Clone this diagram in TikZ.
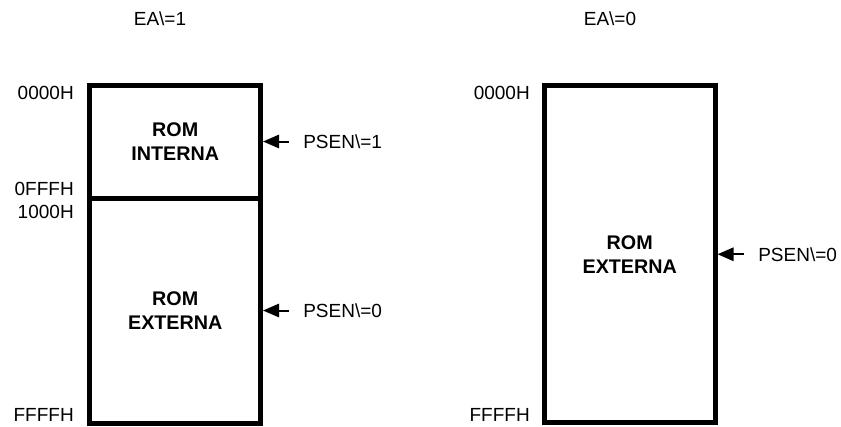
\documentclass[tikz,border=0pt]{standalone}
\usepackage{fontspec}
\setmainfont{Liberation Sans}
\usetikzlibrary{arrows.meta}

\begin{document}
\begin{tikzpicture}[
    x=0.75pt, y=-0.75pt,
    font=\fontsize{14.25}{24}\selectfont,
    % bloques de memoria
    mem/.style={draw, line width=3.75pt, minimum width=127.9pt, align=center, font=\fontsize{14.8}{18}\selectfont\bfseries},
    % direcciones a la izquierda
    addr/.style={anchor=east, inner sep=0pt},
    % senal PSEN con su flecha
    psen/.style={anchor=west, inner xsep=10.5pt, inner ysep=0pt},
    sig/.style={line width=1.5pt, -{Triangle[length=12pt, width=10pt]}}
]
\useasboundingbox (0,0) rectangle (841,426);

% --- Titulos ---
\node (ea1) at (160,19) {EA\textbackslash=1};
\node (ea0) at (610,19) {EA\textbackslash=0};

% --- Mapa con EA\=1 ---
\node[mem, minimum height=84.75pt] (rint) at (175.25,141.5) {ROM\\INTERNA};
\node[mem, minimum height=168.75pt] (rext1) at (175.25,310.5) {ROM\\EXTERNA};

\node[addr] (a0) at (74,92.5) {0000H};
\node[addr] (a1) at (74,189) {0FFFH};
\node[addr] (a2) at (74,211.5) {1000H};
\node[addr] (a3) at (74,415) {FFFFH};

\node[psen] (p1) at (289,141.5) {PSEN\textbackslash=1};
\node[psen] (p0) at (289,310.5) {PSEN\textbackslash=0};
\draw[sig] (p1) -- (rint.east);
\draw[sig] (p0) -- (rext1.east);

% --- Mapa con EA\=0 ---
\node[mem, minimum height=253.1pt] (rext2) at (629.75,254.25) {ROM\\EXTERNA};

\node[addr] (b0) at (530,92.5) {0000H};
\node[addr] (b3) at (530,415) {FFFFH};

\node[psen] (p2) at (744,254.25) {PSEN\textbackslash=0};
\draw[sig] (p2) -- (rext2.east);

\end{tikzpicture}
\end{document}
